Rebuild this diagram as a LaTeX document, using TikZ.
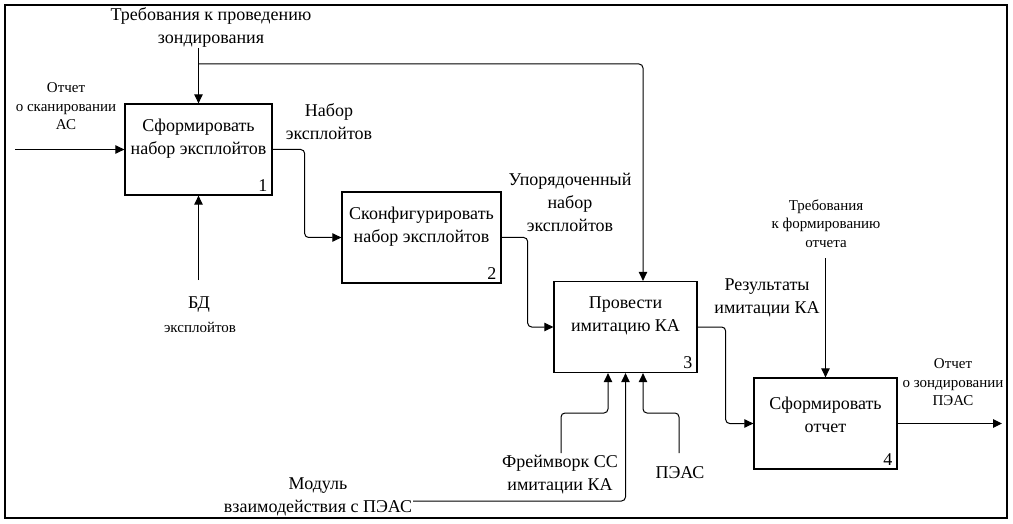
\documentclass[tikz,border=0pt]{standalone}
\usepackage{fontspec}
\setmainfont{Liberation Serif}
\usetikzlibrary{arrows.meta,positioning,calc}

\tikzset{
  funcbox/.style={draw, line width=1.3pt, minimum height=91pt, inner sep=0pt},
  boxtext/.style={align=center, font=\fontsize{18}{23}\selectfont, inner sep=0pt},
  boxnum/.style={anchor=south east, font=\fontsize{18}{20}\selectfont, inner sep=0pt, xshift=-5pt, yshift=4pt},
  biglbl/.style={align=center, font=\fontsize{18}{23}\selectfont, inner sep=0pt},
  smalllbl/.style={align=center, font=\fontsize{15}{18.5}\selectfont, inner sep=0pt},
  flow/.style={line width=1pt, rounded corners=4pt, -{Triangle[length=9pt,width=8.5pt]}}
}

\begin{document}
\begin{tikzpicture}[x=1pt, y=-1pt]
    \useasboundingbox (0,0) rectangle (1013,524);
    \draw[line width=1.4pt] (5,5) rectangle (1007,518);

    % blocks
    \node[funcbox, minimum width=147pt] (b1) at (198.5,149.5) {};
    \node[funcbox, minimum width=159pt] (b2) at (421.5,237.5) {};
    \node[funcbox, minimum width=143pt] (b3) at (625.5,327) {};
    \node[funcbox, minimum width=143pt] (b4) at (825.5,423.5) {};

    \node[boxtext] (t1) at ([yshift=11pt]b1.center) {Сформировать\\набор эксплойтов};
    \node[boxtext] (t2) at ([yshift=11pt]b2.center) {Сконфигурировать\\набор эксплойтов};
    \node[boxtext] (t3) at ([yshift=11pt]b3.center) {Провести\\имитацию КА};
    \node[boxtext] (t4) at ([yshift=9pt]b4.center) {Сформировать\\отчет};

    \node[boxnum] (n1) at (b1.south east) {1};
    \node[boxnum] (n2) at (b2.south east) {2};
    \node[boxnum] (n3) at (b3.south east) {3};
    \node[boxnum] (n4) at (b4.south east) {4};

    % free ends
    \coordinate (in1) at (15,149.5);
    \coordinate (ctl1) at (198.5,48);
    \coordinate (fork1) at (198.5,64);
    \coordinate (mech1) at (198.5,280);
    \coordinate (ctl4) at (825.5,258);
    \coordinate (out4) at (1002,423.5);
    \coordinate (mech3a) at (561,453);
    \coordinate (mech3b) at (413,501);
    \coordinate (mech3c) at (679,453);

    % arrows
    \draw[flow] (in1) -- (b1.west);
    \draw[flow] (ctl1) -- (b1.north);
    \draw[flow] (fork1) -| ($(b3.north)+(17.5,0)$);
    \draw[flow] (mech1) -- (b1.south);
    \draw[flow] (b1.east) -- ++(32,0) |- (b2.west);
    \draw[flow] (b2.east) -- ++(26,0) |- (b3.west);
    \draw[flow] (b3.east) -- ++(28,0) |- (b4.west);
    \draw[flow] (ctl4) -- (b4.north);
    \draw[flow] (b4.east) -- (out4);
    \draw[flow] (mech3a) -- ++(0,-40) -| ($(b3.south)+(-17.5,0)$);
    \draw[flow] (mech3b) -| (b3.south);
    \draw[flow] (mech3c) -- ++(0,-40) -| ($(b3.south)+(17.5,0)$);

    % labels
    \node[biglbl] (lctl1) at (211,27.5) {Требования к проведению\\зондирования};
    \node[smalllbl] (lin1) at (66,106.5) {Отчет\\о сканировании\\АС};
    \node[biglbl] (lmech1) at (199,305) {БД};
    \node[smalllbl] (lmech1b) at (200,327) {эксплойтов};
    \node[biglbl] (l12) at (329,121.5) {Набор\\эксплойтов};
    \node[biglbl] (l23) at (570,202.5) {Упорядоченный\\набор\\эксплойтов};
    \node[biglbl] (l34) at (767,298) {Результаты\\имитации КА};
    \node[smalllbl] (lctl4) at (826,223.5) {Требования\\к формированию\\отчета};
    \node[smalllbl] (lout4) at (953,382.5) {Отчет\\о зондировании\\ПЭАС};
    \node[biglbl] (lm3a) at (560,475) {Фреймворк СС\\имитации КА};
    \node[biglbl] (lm3b) at (318,497) {Модуль\\взаимодействия с ПЭАС};
    \node[biglbl] (lm3c) at (680,473) {ПЭАС};
\end{tikzpicture}
\end{document}
